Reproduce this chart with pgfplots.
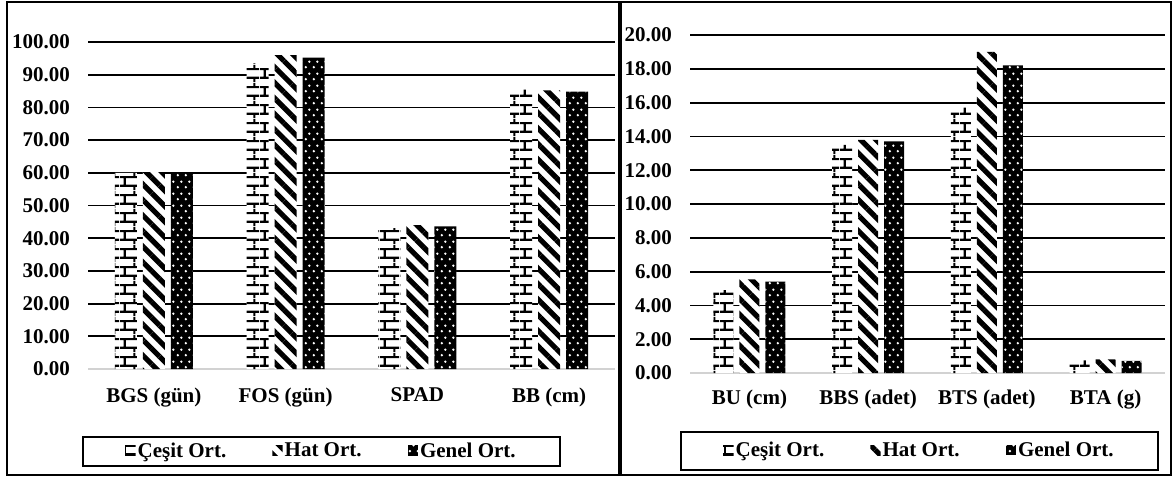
\documentclass[border=0pt]{standalone}
\usepackage{fontspec}
\setmainfont{Liberation Serif}
\usepackage{pgfplots}
\pgfplotsset{compat=1.18}
\usetikzlibrary{patterns.meta}

% brick fill for the variety means
\tikzdeclarepattern{
  name=brickcol, type=uncolored,
  bounding box={(0pt,0pt) and (10pt,9pt)},
  tile size={(10pt,9pt)},
  code={
    \pgfsetlinewidth{1.1pt}
    \pgfpathmoveto{\pgfqpoint{0pt}{2.25pt}}\pgfpathlineto{\pgfqpoint{10pt}{2.25pt}}
    \pgfpathmoveto{\pgfqpoint{0pt}{6.75pt}}\pgfpathlineto{\pgfqpoint{10pt}{6.75pt}}
    \pgfpathmoveto{\pgfqpoint{2.5pt}{2.25pt}}\pgfpathlineto{\pgfqpoint{2.5pt}{6.75pt}}
    \pgfpathmoveto{\pgfqpoint{7.5pt}{6.75pt}}\pgfpathlineto{\pgfqpoint{7.5pt}{9pt}}
    \pgfpathmoveto{\pgfqpoint{7.5pt}{0pt}}\pgfpathlineto{\pgfqpoint{7.5pt}{2.25pt}}
    \pgfusepath{stroke}
  }
}
% staggered dots for the overall means
\tikzdeclarepattern{
  name=stagdots, type=uncolored,
  bounding box={(0pt,0pt) and (4pt,6pt)},
  tile size={(4pt,6pt)},
  code={
    \pgfpathcircle{\pgfqpoint{1pt}{1.5pt}}{0.7pt}
    \pgfpathcircle{\pgfqpoint{3pt}{4.5pt}}{0.7pt}
    \pgfusepath{fill}
  }
}

\pgfplotsset{
  cesit/.style={fill=white, draw=none, postaction={pattern=brickcol, pattern color=black}},
  hat/.style={fill=white, draw=none, postaction={pattern={Lines[angle=-45,distance=5.5pt,line width=2.6pt]}, pattern color=black}},
  genel/.style={fill=black, draw=none, postaction={pattern=stagdots, pattern color=white}},
  panel/.style={
    scale only axis, anchor=south west,
    ybar=3pt,
    every axis plot post/.append style={
      legend image code/.code={\fill[##1] (0pt,-2.2pt) rectangle (5.2pt,3pt);}},
    xmin=-0.5, xmax=3.5, xtick={0,1,2,3},
    axis line style={draw=none}, major tick length=0pt,
    ymajorgrids, grid style={black, line width=0.9pt},
    extra y tick style={grid style={gray!35, line width=0.8pt}},
    scaled y ticks=false,
    yticklabel style={font=\bfseries\fontsize{10.5}{12}\selectfont, xshift=-5.5pt,
      /pgf/number format/.cd, fixed, fixed zerofill, precision=2, assume math mode=true},
    xticklabel style={font=\bfseries\fontsize{10.5}{12}\selectfont, yshift=-6pt},
    legend columns=3,
    legend style={draw=black, line width=1pt, anchor=center,
      font=\bfseries\fontsize{10.5}{12}\selectfont,
      nodes={inner xsep=1pt, inner ysep=0.5pt},
      /tikz/every even column/.append style={column sep=22pt}},
  }
}

\begin{document}
\begin{tikzpicture}
\useasboundingbox (0pt,0pt) rectangle (588pt,238.5pt);

\begin{axis}[panel,
  at={(44pt,54pt)}, width=263.5pt, height=163.5pt, bar width=11pt,
  ymin=0, ymax=100, ytick={10,20,...,100}, extra y ticks={0},
  xticklabels={BGS (gün), FOS (gün), SPAD, BB (cm)},
  legend style={at={(0.443,-0.252)}, inner xsep=21pt, inner ysep=2.5pt}]
\addplot[cesit] coordinates {(0,60.0) (1,93.5) (2,43.1) (3,85.4)};
\addplot[hat]   coordinates {(0,60.2) (1,96.0) (2,44.0) (3,85.2)};
\addplot[genel] coordinates {(0,60.0) (1,95.2) (2,43.6) (3,84.8)};
\legend{Çeşit Ort., Hat Ort., Genel Ort.}
\end{axis}

\begin{axis}[panel,
  at={(345pt,52pt)}, width=237.5pt, height=169pt, bar width=10pt,
  ymin=0, ymax=20, ytick={2,4,...,20}, extra y ticks={0},
  xticklabels={BU (cm), BBS (adet), BTS (adet), BTA (g)},
  xticklabel style={yshift=1pt},
  legend style={at={(0.483,-0.231)}, inner xsep=21pt, inner ysep=4.5pt}]
\addplot[cesit] coordinates {(0,4.91) (1,13.5) (2,15.7) (3,0.75)};
\addplot[hat]   coordinates {(0,5.54) (1,13.8) (2,19.0) (3,0.80)};
\addplot[genel] coordinates {(0,5.40) (1,13.7) (2,18.2) (3,0.72)};
\legend{Çeşit Ort., Hat Ort., Genel Ort.}
\end{axis}

% panel frames
\draw[line width=1pt] (3.5pt,1pt) rectangle (585.5pt,237.5pt);
\draw[line width=1.6pt] (310pt,1pt) -- (310pt,237.5pt);
\end{tikzpicture}
\end{document}
